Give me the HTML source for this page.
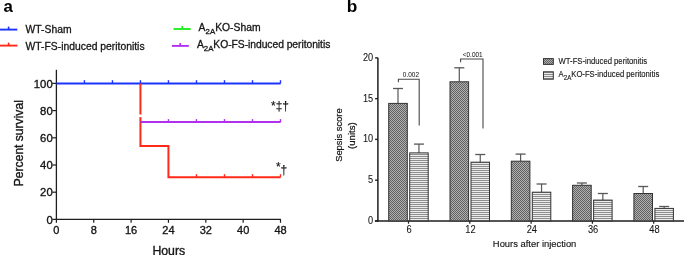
<!DOCTYPE html>
<html><head><meta charset="utf-8"><style>
html,body{margin:0;padding:0;background:#fff;width:684px;height:255px;overflow:hidden}
svg{display:block;font-family:"Liberation Sans", sans-serif;will-change:transform}
</style></head><body>
<svg width="684" height="255" viewBox="0 0 684 255">
<defs>
<pattern id="chk" width="2" height="2" patternUnits="userSpaceOnUse"><rect width="2" height="2" fill="#b0b0b0"/><rect width="1" height="1" fill="#626262"/><rect x="1" y="1" width="1" height="1" fill="#626262"/></pattern>
<pattern id="hst" width="2" height="2" patternUnits="userSpaceOnUse"><rect width="2" height="2" fill="#ececec"/><rect width="2" height="1" fill="#8e8e8e"/></pattern>
</defs>
<text transform="translate(3.40 11.90)" font-size="16.8" text-anchor="start" font-weight="bold" fill="#000">a</text>
<line x1="0.00" y1="29.60" x2="17.30" y2="29.60" stroke="#1b34ff" stroke-width="1.9" stroke-linecap="butt"/>
<line x1="8.60" y1="26.60" x2="8.60" y2="29.60" stroke="#1b34ff" stroke-width="1.6" stroke-linecap="butt"/>
<line x1="0.00" y1="45.60" x2="17.40" y2="45.60" stroke="#ff2a18" stroke-width="1.9" stroke-linecap="butt"/>
<line x1="8.60" y1="42.60" x2="8.60" y2="45.60" stroke="#ff2a18" stroke-width="1.6" stroke-linecap="butt"/>
<line x1="173.50" y1="29.00" x2="190.70" y2="29.00" stroke="#20f020" stroke-width="1.9" stroke-linecap="butt"/>
<line x1="182.20" y1="26.00" x2="182.20" y2="29.00" stroke="#20f020" stroke-width="1.6" stroke-linecap="butt"/>
<line x1="171.90" y1="45.90" x2="188.80" y2="45.90" stroke="#b030f0" stroke-width="1.9" stroke-linecap="butt"/>
<line x1="180.20" y1="42.90" x2="180.20" y2="45.90" stroke="#b030f0" stroke-width="1.6" stroke-linecap="butt"/>
<text transform="translate(25.60 33.40)" font-size="10.35" text-anchor="start" font-weight="normal" fill="#161616" stroke="#161616" stroke-width="0.3">WT-Sham</text>
<text transform="translate(25.60 50.10)" font-size="10.35" text-anchor="start" font-weight="normal" fill="#161616" stroke="#161616" stroke-width="0.3">WT-FS-induced peritonitis</text>
<text transform="translate(198.60 30.90)" font-size="10.35" fill="#161616" stroke="#161616" stroke-width="0.30">A<tspan font-size="7.87" dy="3.3">2A</tspan><tspan dy="-3.3">KO-Sham</tspan></text>
<text transform="translate(197.00 47.70)" font-size="10.35" fill="#161616" stroke="#161616" stroke-width="0.30" letter-spacing="-0.06">A<tspan font-size="7.87" dy="3.3">2A</tspan><tspan dy="-3.3">KO-FS-induced peritonitis</tspan></text>
<line x1="56.40" y1="69.80" x2="56.40" y2="220.05" stroke="#1e1e1e" stroke-width="1.3" stroke-linecap="butt"/>
<line x1="55.75" y1="219.40" x2="280.90" y2="219.40" stroke="#1e1e1e" stroke-width="1.3" stroke-linecap="butt"/>
<line x1="56.40" y1="219.40" x2="56.40" y2="222.80" stroke="#1e1e1e" stroke-width="1.2" stroke-linecap="butt"/>
<text transform="translate(56.40 234.10)" font-size="11.0" text-anchor="middle" font-weight="normal" fill="#161616" stroke="#161616" stroke-width="0.3448275862068966">0</text>
<line x1="93.75" y1="219.40" x2="93.75" y2="222.80" stroke="#1e1e1e" stroke-width="1.2" stroke-linecap="butt"/>
<text transform="translate(93.75 234.10)" font-size="11.0" text-anchor="middle" font-weight="normal" fill="#161616" stroke="#161616" stroke-width="0.3448275862068966">8</text>
<line x1="131.10" y1="219.40" x2="131.10" y2="222.80" stroke="#1e1e1e" stroke-width="1.2" stroke-linecap="butt"/>
<text transform="translate(131.10 234.10)" font-size="11.0" text-anchor="middle" font-weight="normal" fill="#161616" stroke="#161616" stroke-width="0.3448275862068966">16</text>
<line x1="168.45" y1="219.40" x2="168.45" y2="222.80" stroke="#1e1e1e" stroke-width="1.2" stroke-linecap="butt"/>
<text transform="translate(168.45 234.10)" font-size="11.0" text-anchor="middle" font-weight="normal" fill="#161616" stroke="#161616" stroke-width="0.3448275862068966">24</text>
<line x1="205.80" y1="219.40" x2="205.80" y2="222.80" stroke="#1e1e1e" stroke-width="1.2" stroke-linecap="butt"/>
<text transform="translate(205.80 234.10)" font-size="11.0" text-anchor="middle" font-weight="normal" fill="#161616" stroke="#161616" stroke-width="0.3448275862068966">32</text>
<line x1="243.15" y1="219.40" x2="243.15" y2="222.80" stroke="#1e1e1e" stroke-width="1.2" stroke-linecap="butt"/>
<text transform="translate(243.15 234.10)" font-size="11.0" text-anchor="middle" font-weight="normal" fill="#161616" stroke="#161616" stroke-width="0.3448275862068966">40</text>
<line x1="280.50" y1="219.40" x2="280.50" y2="222.80" stroke="#1e1e1e" stroke-width="1.2" stroke-linecap="butt"/>
<text transform="translate(280.50 234.10)" font-size="11.0" text-anchor="middle" font-weight="normal" fill="#161616" stroke="#161616" stroke-width="0.3448275862068966">48</text>
<line x1="52.40" y1="219.40" x2="56.40" y2="219.40" stroke="#1e1e1e" stroke-width="1.2" stroke-linecap="butt"/>
<text transform="translate(52.70 223.50)" font-size="11.3" text-anchor="end" font-weight="normal" fill="#161616" stroke="#161616" stroke-width="0.35">0</text>
<line x1="52.40" y1="192.20" x2="56.40" y2="192.20" stroke="#1e1e1e" stroke-width="1.2" stroke-linecap="butt"/>
<text transform="translate(52.70 196.30)" font-size="11.3" text-anchor="end" font-weight="normal" fill="#161616" stroke="#161616" stroke-width="0.35">20</text>
<line x1="52.40" y1="165.00" x2="56.40" y2="165.00" stroke="#1e1e1e" stroke-width="1.2" stroke-linecap="butt"/>
<text transform="translate(52.70 169.10)" font-size="11.3" text-anchor="end" font-weight="normal" fill="#161616" stroke="#161616" stroke-width="0.35">40</text>
<line x1="52.40" y1="137.80" x2="56.40" y2="137.80" stroke="#1e1e1e" stroke-width="1.2" stroke-linecap="butt"/>
<text transform="translate(52.70 141.90)" font-size="11.3" text-anchor="end" font-weight="normal" fill="#161616" stroke="#161616" stroke-width="0.35">60</text>
<line x1="52.40" y1="110.60" x2="56.40" y2="110.60" stroke="#1e1e1e" stroke-width="1.2" stroke-linecap="butt"/>
<text transform="translate(52.70 114.70)" font-size="11.3" text-anchor="end" font-weight="normal" fill="#161616" stroke="#161616" stroke-width="0.35">80</text>
<line x1="52.40" y1="83.40" x2="56.40" y2="83.40" stroke="#1e1e1e" stroke-width="1.2" stroke-linecap="butt"/>
<text transform="translate(52.70 87.50)" font-size="11.3" text-anchor="end" font-weight="normal" fill="#161616" stroke="#161616" stroke-width="0.35">100</text>
<text transform="translate(23.40 143.20) rotate(-90)" font-size="12.1" text-anchor="middle" font-weight="normal" fill="#161616" stroke="#161616" stroke-width="0.35">Percent survival</text>
<text transform="translate(168.80 255.00)" font-size="12.3" text-anchor="middle" font-weight="normal" fill="#161616" stroke="#161616" stroke-width="0.35">Hours</text>
<line x1="56.40" y1="83.40" x2="280.60" y2="83.40" stroke="#1b34ff" stroke-width="2" stroke-linecap="butt"/>
<line x1="84.41" y1="80.20" x2="84.41" y2="83.40" stroke="#1b34ff" stroke-width="1.4" stroke-linecap="butt"/>
<line x1="112.43" y1="80.20" x2="112.43" y2="83.40" stroke="#1b34ff" stroke-width="1.4" stroke-linecap="butt"/>
<line x1="140.44" y1="80.20" x2="140.44" y2="83.40" stroke="#1b34ff" stroke-width="1.4" stroke-linecap="butt"/>
<line x1="168.45" y1="80.20" x2="168.45" y2="83.40" stroke="#1b34ff" stroke-width="1.4" stroke-linecap="butt"/>
<line x1="196.46" y1="80.20" x2="196.46" y2="83.40" stroke="#1b34ff" stroke-width="1.4" stroke-linecap="butt"/>
<line x1="224.48" y1="80.20" x2="224.48" y2="83.40" stroke="#1b34ff" stroke-width="1.4" stroke-linecap="butt"/>
<line x1="252.49" y1="80.20" x2="252.49" y2="83.40" stroke="#1b34ff" stroke-width="1.4" stroke-linecap="butt"/>
<line x1="280.50" y1="80.20" x2="280.50" y2="83.40" stroke="#1b34ff" stroke-width="1.4" stroke-linecap="butt"/>
<polyline points="140.44,83.4 140.44,145.9 168.45,145.9 168.45,177.2 280.60,177.2" fill="none" stroke="#ff2a18" stroke-width="2"/>
<line x1="196.46" y1="174.20" x2="196.46" y2="177.20" stroke="#ff2a18" stroke-width="1.4" stroke-linecap="butt"/>
<line x1="224.48" y1="174.20" x2="224.48" y2="177.20" stroke="#ff2a18" stroke-width="1.4" stroke-linecap="butt"/>
<line x1="252.49" y1="174.20" x2="252.49" y2="177.20" stroke="#ff2a18" stroke-width="1.4" stroke-linecap="butt"/>
<line x1="280.50" y1="174.20" x2="280.50" y2="177.20" stroke="#ff2a18" stroke-width="1.4" stroke-linecap="butt"/>
<rect x="138.94" y="114.50" width="3.00" height="2.60" fill="#fff"/>
<line x1="140.44" y1="122.10" x2="280.60" y2="122.10" stroke="#b030f0" stroke-width="2" stroke-linecap="butt"/>
<line x1="168.45" y1="119.10" x2="168.45" y2="122.10" stroke="#b030f0" stroke-width="1.4" stroke-linecap="butt"/>
<line x1="196.46" y1="119.10" x2="196.46" y2="122.10" stroke="#b030f0" stroke-width="1.4" stroke-linecap="butt"/>
<line x1="224.48" y1="119.10" x2="224.48" y2="122.10" stroke="#b030f0" stroke-width="1.4" stroke-linecap="butt"/>
<line x1="252.49" y1="119.10" x2="252.49" y2="122.10" stroke="#b030f0" stroke-width="1.4" stroke-linecap="butt"/>
<line x1="280.50" y1="119.10" x2="280.50" y2="122.10" stroke="#b030f0" stroke-width="1.4" stroke-linecap="butt"/>
<text transform="translate(271.00 109.80)" font-size="12" text-anchor="start" font-weight="normal" fill="#111" stroke="#111" stroke-width="0.12">*‡†</text>
<text transform="translate(276.00 171.20)" font-size="12" text-anchor="start" font-weight="normal" fill="#111" stroke="#111" stroke-width="0.12">*</text>
<text transform="translate(280.60 174.30)" font-size="12" text-anchor="start" font-weight="normal" fill="#111" stroke="#111" stroke-width="0.12">†</text>
<text transform="translate(346.70 11.80)" font-size="17.3" text-anchor="start" font-weight="bold" fill="#000">b</text>
<line x1="377.90" y1="57.80" x2="377.90" y2="221.65" stroke="#1e1e1e" stroke-width="1.5" stroke-linecap="butt"/>
<line x1="374.90" y1="220.90" x2="684.00" y2="220.90" stroke="#1e1e1e" stroke-width="1.5" stroke-linecap="butt"/>
<line x1="375.10" y1="220.90" x2="377.90" y2="220.90" stroke="#1e1e1e" stroke-width="1.4" stroke-linecap="butt"/>
<text transform="translate(373.20 223.80) scale(1 1.1)" font-size="9.2" text-anchor="end" font-weight="normal" fill="#161616" stroke="#161616" stroke-width="0.08">0</text>
<line x1="375.10" y1="180.15" x2="377.90" y2="180.15" stroke="#1e1e1e" stroke-width="1.4" stroke-linecap="butt"/>
<text transform="translate(373.20 183.05) scale(1 1.1)" font-size="9.2" text-anchor="end" font-weight="normal" fill="#161616" stroke="#161616" stroke-width="0.08">5</text>
<line x1="375.10" y1="139.40" x2="377.90" y2="139.40" stroke="#1e1e1e" stroke-width="1.4" stroke-linecap="butt"/>
<text transform="translate(373.20 142.30) scale(1 1.1)" font-size="9.2" text-anchor="end" font-weight="normal" fill="#161616" stroke="#161616" stroke-width="0.08">10</text>
<line x1="375.10" y1="98.65" x2="377.90" y2="98.65" stroke="#1e1e1e" stroke-width="1.4" stroke-linecap="butt"/>
<text transform="translate(373.20 101.55) scale(1 1.1)" font-size="9.2" text-anchor="end" font-weight="normal" fill="#161616" stroke="#161616" stroke-width="0.08">15</text>
<line x1="375.10" y1="57.90" x2="377.90" y2="57.90" stroke="#1e1e1e" stroke-width="1.4" stroke-linecap="butt"/>
<text transform="translate(373.20 60.80) scale(1 1.1)" font-size="9.2" text-anchor="end" font-weight="normal" fill="#161616" stroke="#161616" stroke-width="0.08">20</text>
<line x1="398.00" y1="88.50" x2="398.00" y2="103.40" stroke="#585858" stroke-width="1.2" stroke-linecap="butt"/>
<line x1="393.00" y1="88.50" x2="403.00" y2="88.50" stroke="#585858" stroke-width="1.3" stroke-linecap="butt"/>
<line x1="418.95" y1="144.10" x2="418.95" y2="152.90" stroke="#585858" stroke-width="1.2" stroke-linecap="butt"/>
<line x1="413.95" y1="144.10" x2="423.95" y2="144.10" stroke="#585858" stroke-width="1.3" stroke-linecap="butt"/>
<rect x="388.70" y="103.40" width="18.60" height="117.50" fill="url(#chk)" stroke="#333" stroke-width="1.0"/>
<rect x="409.70" y="152.90" width="18.50" height="68.00" fill="url(#hst)" stroke="#333" stroke-width="1.0"/>
<line x1="408.50" y1="220.90" x2="408.50" y2="223.70" stroke="#1e1e1e" stroke-width="1.2" stroke-linecap="butt"/>
<text transform="translate(409.20 232.80) scale(1 1.14)" font-size="9.3" text-anchor="middle" font-weight="normal" fill="#161616" stroke="#161616" stroke-width="0.08">6</text>
<line x1="459.30" y1="67.80" x2="459.30" y2="81.80" stroke="#585858" stroke-width="1.2" stroke-linecap="butt"/>
<line x1="454.30" y1="67.80" x2="464.30" y2="67.80" stroke="#585858" stroke-width="1.3" stroke-linecap="butt"/>
<line x1="480.25" y1="154.50" x2="480.25" y2="162.20" stroke="#585858" stroke-width="1.2" stroke-linecap="butt"/>
<line x1="475.25" y1="154.50" x2="485.25" y2="154.50" stroke="#585858" stroke-width="1.3" stroke-linecap="butt"/>
<rect x="450.00" y="81.80" width="18.60" height="139.10" fill="url(#chk)" stroke="#333" stroke-width="1.0"/>
<rect x="471.00" y="162.20" width="18.50" height="58.70" fill="url(#hst)" stroke="#333" stroke-width="1.0"/>
<line x1="469.80" y1="220.90" x2="469.80" y2="223.70" stroke="#1e1e1e" stroke-width="1.2" stroke-linecap="butt"/>
<text transform="translate(470.50 232.80) scale(1 1.14)" font-size="9.3" text-anchor="middle" font-weight="normal" fill="#161616" stroke="#161616" stroke-width="0.08">12</text>
<line x1="520.60" y1="154.10" x2="520.60" y2="161.20" stroke="#585858" stroke-width="1.2" stroke-linecap="butt"/>
<line x1="515.60" y1="154.10" x2="525.60" y2="154.10" stroke="#585858" stroke-width="1.3" stroke-linecap="butt"/>
<line x1="541.55" y1="184.00" x2="541.55" y2="192.20" stroke="#585858" stroke-width="1.2" stroke-linecap="butt"/>
<line x1="536.55" y1="184.00" x2="546.55" y2="184.00" stroke="#585858" stroke-width="1.3" stroke-linecap="butt"/>
<rect x="511.30" y="161.20" width="18.60" height="59.70" fill="url(#chk)" stroke="#333" stroke-width="1.0"/>
<rect x="532.30" y="192.20" width="18.50" height="28.70" fill="url(#hst)" stroke="#333" stroke-width="1.0"/>
<line x1="531.10" y1="220.90" x2="531.10" y2="223.70" stroke="#1e1e1e" stroke-width="1.2" stroke-linecap="butt"/>
<text transform="translate(531.80 232.80) scale(1 1.14)" font-size="9.3" text-anchor="middle" font-weight="normal" fill="#161616" stroke="#161616" stroke-width="0.08">24</text>
<line x1="581.90" y1="183.00" x2="581.90" y2="185.30" stroke="#585858" stroke-width="1.2" stroke-linecap="butt"/>
<line x1="576.90" y1="183.00" x2="586.90" y2="183.00" stroke="#585858" stroke-width="1.3" stroke-linecap="butt"/>
<line x1="602.85" y1="193.50" x2="602.85" y2="200.10" stroke="#585858" stroke-width="1.2" stroke-linecap="butt"/>
<line x1="597.85" y1="193.50" x2="607.85" y2="193.50" stroke="#585858" stroke-width="1.3" stroke-linecap="butt"/>
<rect x="572.60" y="185.30" width="18.60" height="35.60" fill="url(#chk)" stroke="#333" stroke-width="1.0"/>
<rect x="593.60" y="200.10" width="18.50" height="20.80" fill="url(#hst)" stroke="#333" stroke-width="1.0"/>
<line x1="592.40" y1="220.90" x2="592.40" y2="223.70" stroke="#1e1e1e" stroke-width="1.2" stroke-linecap="butt"/>
<text transform="translate(593.10 232.80) scale(1 1.14)" font-size="9.3" text-anchor="middle" font-weight="normal" fill="#161616" stroke="#161616" stroke-width="0.08">36</text>
<line x1="643.20" y1="186.50" x2="643.20" y2="193.50" stroke="#585858" stroke-width="1.2" stroke-linecap="butt"/>
<line x1="638.20" y1="186.50" x2="648.20" y2="186.50" stroke="#585858" stroke-width="1.3" stroke-linecap="butt"/>
<line x1="664.15" y1="206.50" x2="664.15" y2="208.40" stroke="#585858" stroke-width="1.2" stroke-linecap="butt"/>
<line x1="659.15" y1="206.50" x2="669.15" y2="206.50" stroke="#585858" stroke-width="1.3" stroke-linecap="butt"/>
<rect x="633.90" y="193.50" width="18.60" height="27.40" fill="url(#chk)" stroke="#333" stroke-width="1.0"/>
<rect x="654.90" y="208.40" width="18.50" height="12.50" fill="url(#hst)" stroke="#333" stroke-width="1.0"/>
<line x1="653.70" y1="220.90" x2="653.70" y2="223.70" stroke="#1e1e1e" stroke-width="1.2" stroke-linecap="butt"/>
<text transform="translate(654.40 232.80) scale(1 1.14)" font-size="9.3" text-anchor="middle" font-weight="normal" fill="#161616" stroke="#161616" stroke-width="0.08">48</text>
<polyline points="398.4,82.2 398.4,79.2 419.2,79.2 419.2,125.6" fill="none" stroke="#484848" stroke-width="1.1"/>
<text transform="translate(410.90 76.90) scale(1 1.12)" font-size="6.5" text-anchor="middle" font-weight="normal" fill="#161616" stroke="#161616" stroke-width="0.034482758620689655">0.002</text>
<polyline points="460.6,62.2 460.6,59.0 483.0,59.0 483.0,128.4" fill="none" stroke="#484848" stroke-width="1.1"/>
<text transform="translate(472.70 56.80) scale(1 1.12)" font-size="6.4" text-anchor="middle" font-weight="normal" fill="#161616" stroke="#161616" stroke-width="0.02758620689655175">&lt;0.001</text>
<rect x="543.50" y="58.60" width="9.80" height="5.80" fill="url(#chk)" stroke="#333" stroke-width="1"/>
<rect x="543.50" y="71.80" width="9.80" height="7.40" fill="url(#hst)" stroke="#333" stroke-width="1"/>
<text transform="translate(558.60 64.20) scale(1 1.12)" font-size="7.7" text-anchor="start" font-weight="normal" fill="#161616" stroke="#161616" stroke-width="0.11724137931034484">WT-FS-induced peritonitis</text>
<text transform="translate(558.60 77.10) scale(1 1.12)" font-size="7.7" fill="#161616" stroke="#161616" stroke-width="0.12">A<tspan font-size="6.16" dy="2.5">2A</tspan><tspan dy="-2.5">KO-FS-induced peritonitis</tspan></text>
<text transform="translate(342.40 135.10) rotate(-90)" font-size="9.35" text-anchor="middle" font-weight="normal" fill="#161616" stroke="#161616" stroke-width="0.23103448275862068">Sepsis score</text>
<text transform="translate(355.20 135.60) rotate(-90)" font-size="9.6" text-anchor="middle" font-weight="normal" fill="#161616" stroke="#161616" stroke-width="0.2482758620689655">(units)</text>
<text transform="translate(534.60 247.00) scale(1 1.06)" font-size="9.4" text-anchor="middle" font-weight="normal" fill="#161616" stroke="#161616" stroke-width="0.15">Hours after injection</text>
</svg>
</body></html>
